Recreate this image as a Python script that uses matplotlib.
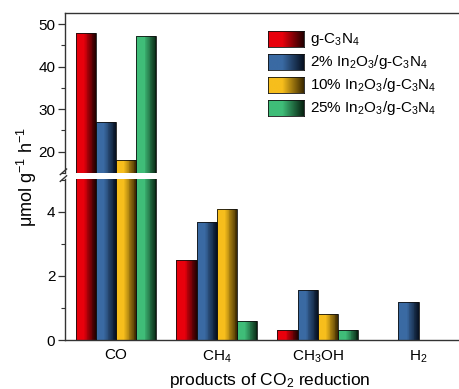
import numpy as np
import matplotlib.pyplot as plt
from matplotlib.colors import LinearSegmentedColormap
from matplotlib.ticker import MultipleLocator

plt.rcParams['font.family'] = ['Liberation Sans', 'DejaVu Sans']
plt.rcParams['mathtext.fontset'] = 'custom'
plt.rcParams['mathtext.rm'] = 'Liberation Sans'
plt.rcParams['mathtext.it'] = 'Liberation Sans:italic'

# data
products = ['CO', 'CH$_4$', 'CH$_3$OH', 'H$_2$']
samples = ['g-C$_3$N$_4$', '2% In$_2$O$_3$/g-C$_3$N$_4$',
           '10% In$_2$O$_3$/g-C$_3$N$_4$', '25% In$_2$O$_3$/g-C$_3$N$_4$']
g_c3n4 = [48.0, 2.5, 0.3, 0.0]
in2o3_2 = [27.0, 3.7, 1.55, 1.2]
in2o3_10 = [18.0, 4.1, 0.8, 0.0]
in2o3_25 = [47.2, 0.6, 0.3, 0.0]
series = [g_c3n4, in2o3_2, in2o3_10, in2o3_25]
colors = ['#e8000c', '#3a6aa3', '#f7be1c', '#3fbd78']
dark = ['#200000', '#061020', '#3a2800', '#06200f']

W, H = 459, 389
fig = plt.figure(figsize=(W / 100, H / 100), dpi=100)

left = 65 / W
ax_hi = fig.add_axes([left, 1 - 173 / H, 1 - left, 160 / H])
ax_lo = fig.add_axes([left, 1 - 340 / H, 1 - left, 161 / H])

x = np.arange(len(products))
width = 0.2
n_strips = 24
grad = np.linspace(0, 1, 256).reshape(1, -1)


def cmap_for(i):
    return LinearSegmentedColormap.from_list(
        f'c{i}', [(0, colors[i]), (0.4, colors[i]), (1, dark[i])])


def draw_bars(ax):
    sw = width / n_strips
    for i, vals in enumerate(series):
        cm = cmap_for(i)
        x0 = x + (i - 1.5) * width - width / 2
        # gradient fill: thin vertical strips from light to dark
        for k in range(n_strips):
            ax.bar(x0 + k * sw, vals, sw * 1.08, align='edge',
                   color=cm((k + 0.5) / n_strips), linewidth=0, zorder=2)
        ax.bar(x0, vals, width, align='edge', facecolor='none',
               edgecolor='#111111', linewidth=0.6, zorder=3)
    ax.set_xlim(-0.505, 3.4)


draw_bars(ax_hi)
draw_bars(ax_lo)
ax_hi.set_ylim(15, 52.6)
ax_lo.set_ylim(0, 5.03)

ax_hi.yaxis.set_major_locator(MultipleLocator(10))
ax_hi.yaxis.set_minor_locator(MultipleLocator(5))
ax_lo.yaxis.set_major_locator(MultipleLocator(2))
ax_lo.yaxis.set_minor_locator(MultipleLocator(1))

spine_c = '#333333'
for ax in (ax_hi, ax_lo):
    for s in ax.spines.values():
        s.set_color(spine_c)
        s.set_linewidth(1.0)
    ax.spines['right'].set_visible(False)
    ax.tick_params(axis='y', which='major', direction='out', length=5,
                   width=0.9, color=spine_c, labelsize=11, pad=2)
    ax.tick_params(axis='y', which='minor', direction='out', length=3,
                   width=0.8, color=spine_c)
ax_hi.spines['bottom'].set_visible(False)
ax_lo.spines['top'].set_visible(False)
ax_hi.set_xticks([])
ax_lo.set_xticks(x)
ax_lo.set_xticklabels(products, fontsize=11)
ax_lo.tick_params(axis='x', length=0, pad=6)

# break marks on the left spine
kw = dict(color=spine_c, lw=1.0, clip_on=False)
ax_hi.plot([-0.012, 0.004], [-0.01, 0.025], transform=ax_hi.transAxes, **kw)
ax_lo.plot([-0.012, 0.004], [0.985, 1.02], transform=ax_lo.transAxes, **kw)

fig.text(27 / W, 1 - 177 / H, r'$\mathregular{\mu}$mol g$^{-1}$ h$^{-1}$',
         rotation=90, ha='center', va='center', fontsize=13)
fig.text(270 / W, 1 - 381 / H, 'products of CO$_2$ reduction',
         ha='center', va='center', fontsize=12.5)

# legend with gradient swatches
for i, lab in enumerate(samples):
    yc = 1 - (39 + i * 23) / H
    sw = fig.add_axes([268 / W, yc - 8 / H, 36 / W, 16 / H])
    sw.imshow(grad, cmap=cmap_for(i), aspect='auto', extent=[0, 1, 0, 1])
    sw.set_xticks([])
    sw.set_yticks([])
    for s in sw.spines.values():
        s.set_color('#111111')
        s.set_linewidth(0.6)
    fig.text(310 / W, yc, lab, ha='left', va='center', fontsize=11)

fig.savefig('out.png', dpi=100)
